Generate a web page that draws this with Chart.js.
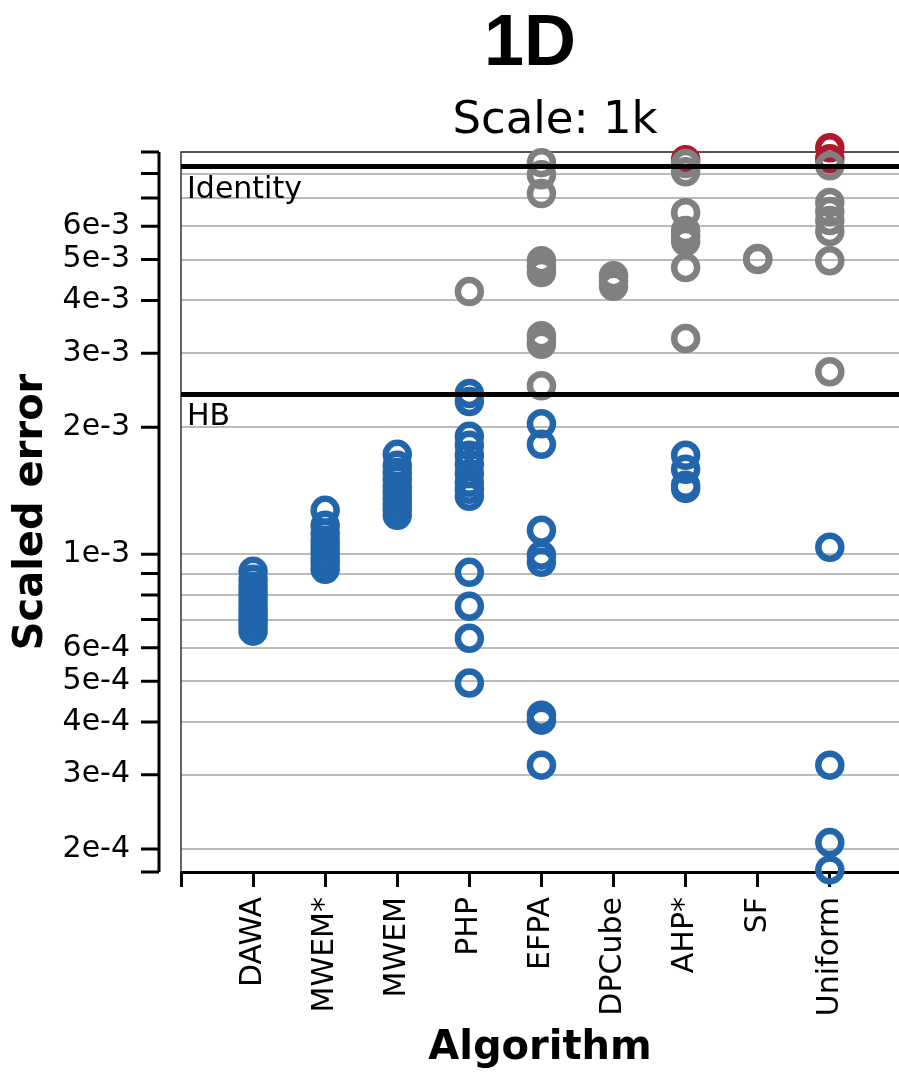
<!DOCTYPE html>
<html lang="en">
  <head>
    <meta charset="UTF-8" />
    <title>1D</title>
    <script src="https://cdn.jsdelivr.net/npm/chart.js"></script>
    <style>
      body { margin: 0; background: #fff; }
      #wrap { width: 899px; height: 1073px; }
    </style>
  </head>
  <body>
    <div id="wrap"><canvas id="chart" width="899" height="1073"></canvas></div>

    <script>
      // categories on the x axis
      const algorithms = ["DAWA", "MWEM*", "MWEM", "PHP", "EFPA", "DPCube", "AHP*", "SF", "Uniform"];

      // scaled error per algorithm (one list per category), split by colour
      const blueErrors = [
        [9.11e-4, 8.72e-4, 8.4e-4, 8.13e-4, 7.87e-4, 7.61e-4, 7.37e-4, 7.17e-4, 6.98e-4, 6.79e-4, 6.57e-4],
        [1.271e-3, 1.171e-3, 1.121e-3, 1.079e-3, 1.045e-3, 1.011e-3, 9.78e-4, 9.52e-4, 9.21e-4],
        [1.726e-3, 1.625e-3, 1.564e-3, 1.506e-3, 1.449e-3, 1.403e-3, 1.357e-3, 1.314e-3, 1.278e-3, 1.237e-3],
        [2.407e-3, 2.304e-3, 1.904e-3, 1.813e-3, 1.717e-3, 1.634e-3, 1.555e-3, 1.481e-3, 1.426e-3, 1.372e-3,
         9.06e-4, 7.53e-4, 6.32e-4, 4.95e-4],
        [2.04e-3, 1.823e-3, 1.14e-3, 9.95e-4, 9.57e-4, 4.15e-4, 4.04e-4, 3.16e-4],
        [],
        [1.717e-3, 1.59e-3, 1.457e-3, 1.433e-3],
        [],
        [1.039e-3, 3.16e-4, 2.07e-4, 1.783e-4],
      ];
      const greyErrors = [
        [],
        [],
        [],
        [4.2e-3],
        [8.49e-3, 7.95e-3, 7.17e-3, 4.97e-3, 4.81e-3, 4.66e-3, 3.3e-3, 3.2e-3, 3.15e-3, 2.51e-3],
        [4.58e-3, 4.46e-3, 4.32e-3],
        [8.45e-3, 8.08e-3, 6.46e-3, 5.86e-3, 5.67e-3, 5.52e-3, 4.79e-3, 3.25e-3],
        [5.03e-3, 5.0e-3],
        [8.35e-3, 6.83e-3, 6.5e-3, 6.19e-3, 5.83e-3, 4.97e-3, 2.71e-3],
      ];
      const redErrors = [[], [], [], [], [], [], [8.63e-3], [], [9.21e-3, 8.68e-3]];

      // reference lines
      const baselines = ["Identity", "HB"];
      const baselineErrors = [8.31e-3, 2.394e-3];

      // y ticks (log scale) and their labels
      const yTicks = [2e-4, 3e-4, 4e-4, 5e-4, 6e-4, 7e-4, 8e-4, 9e-4,
                      1e-3, 2e-3, 3e-3, 4e-3, 5e-3, 6e-3, 7e-3, 8e-3, 9e-3];
      const yTickLabels = ["2e-4", "3e-4", "4e-4", "5e-4", "6e-4", "", "", "",
                           "1e-3", "2e-3", "3e-3", "4e-3", "5e-3", "6e-3", "", "", ""];

      const FONT = "DejaVu Sans";

      const toPoints = (lists) =>
        lists.flatMap((vals, i) => vals.map((v) => ({ x: i + 1, y: v })));

      const rings = (lists, color, order) => ({
        data: toPoints(lists),
        borderColor: color,
        backgroundColor: "rgba(0,0,0,0)",
        pointRadius: 11.5,
        pointHoverRadius: 11.5,
        borderWidth: 6.5,
        pointBorderWidth: 6.5,
        order: order,
        clip: false,
      });

      const refLines = baselineErrors.map((v) => ({
        data: [{ x: 0, y: v }, { x: 10, y: v }],
        showLine: true,
        borderColor: "#000",
        borderWidth: 5,
        pointRadius: 0,
        order: 0,
      }));

      // extra drawing: titles, offset y spine, frame, reference labels
      const decor = {
        id: "decor",
        beforeDatasetsDraw(chart) {
          const { ctx, chartArea } = chart;
          ctx.save();
          ctx.strokeStyle = "#333";
          ctx.lineWidth = 1.5;
          ctx.beginPath();
          ctx.moveTo(chartArea.left, chartArea.bottom);
          ctx.lineTo(chartArea.left, chartArea.top);
          ctx.lineTo(chartArea.right, chartArea.top);
          ctx.stroke();
          ctx.restore();
        },
        afterDraw(chart) {
          const { ctx, chartArea, scales } = chart;
          const y = scales.y;
          ctx.save();

          // offset y axis line with tick marks
          const spineX = chartArea.left - 22;
          ctx.strokeStyle = "#000";
          ctx.lineWidth = 3;
          ctx.beginPath();
          ctx.moveTo(spineX, chartArea.top);
          ctx.lineTo(spineX, chartArea.bottom);
          [...yTicks, y.min, y.max].forEach((v) => {
            const py = y.getPixelForValue(v);
            ctx.moveTo(spineX - 18, py);
            ctx.lineTo(spineX, py);
          });
          ctx.stroke();

          // labels of the reference lines
          ctx.fillStyle = "#000";
          ctx.font = `30px "${FONT}"`;
          ctx.textAlign = "left";
          ctx.textBaseline = "alphabetic";
          baselines.forEach((name, i) => {
            ctx.fillText(name, chartArea.left + 6, y.getPixelForValue(baselineErrors[i]) + 31);
          });

          // titles
          const cx = (chartArea.left + chartArea.right) / 2;
          ctx.textAlign = "center";
          ctx.font = `bold 72px "Liberation Sans"`;
          ctx.fillText("1D", cx - 10, 65);
          ctx.font = `45px "${FONT}"`;
          ctx.fillText("Scale: 1k", cx + 15, 133);
          ctx.restore();
        },
      };

      new Chart(document.getElementById("chart"), {
        type: "scatter",
        data: {
          datasets: [
            rings(redErrors, "#b2182b", 3),
            rings(greyErrors, "#808080", 2),
            rings(blueErrors, "#2166ac", 1),
            ...refLines,
          ],
        },
        options: {
          responsive: false,
          animation: false,
          devicePixelRatio: 1,
          layout: { autoPadding: false, padding: { top: 152, left: 0, right: 0, bottom: 0 } },
          plugins: {
            legend: { display: false },
            tooltip: { enabled: false },
          },
          scales: {
            x: {
              type: "linear",
              min: 0,
              max: 9.96,
              afterBuildTicks: (s) => {
                s.ticks = algorithms.map((_, i) => ({ value: i + 1 }));
                s.ticks.unshift({ value: 0 });
              },
              afterFit: (s) => {
                s.height = 201;
                s.paddingLeft = 0;
                s.paddingRight = 0;
              },
              ticks: {
                autoSkip: false,
                minRotation: 90,
                maxRotation: 90,
                padding: 10,
                color: "#000",
                font: { family: FONT, size: 30 },
                callback: (v) => algorithms[v - 1] || "",
              },
              grid: { drawOnChartArea: false, drawTicks: true, tickLength: 15, lineWidth: 3, color: "#000" },
              border: { display: true, color: "#000", width: 3 },
              title: {
                display: true,
                text: "Algorithm",
                color: "#000",
                font: { family: FONT, size: 40, weight: "bold" },
                padding: { top: 0, bottom: 0 },
              },
            },
            y: {
              type: "logarithmic",
              min: 1.763e-4,
              max: 9.0e-3,
              afterBuildTicks: (s) => {
                s.ticks = yTicks.map((v) => ({ value: v }));
              },
              afterFit: (s) => {
                s.width = 181;
                s.paddingTop = 0;
                s.paddingBottom = 0;
              },
              ticks: {
                autoSkip: false,
                padding: 51,
                color: "#000",
                font: { family: FONT, size: 30 },
                callback: (v) => yTickLabels[yTicks.indexOf(v)],
              },
              grid: { drawTicks: false, color: "#bbbbbb", lineWidth: 2 },
              border: { display: false },
              title: {
                display: true,
                text: "Scaled error",
                color: "#000",
                font: { family: FONT, size: 40, weight: "bold" },
                padding: { top: 8, bottom: 0 },
              },
            },
          },
        },
        plugins: [decor],
      });
    </script>
  </body>
</html>
